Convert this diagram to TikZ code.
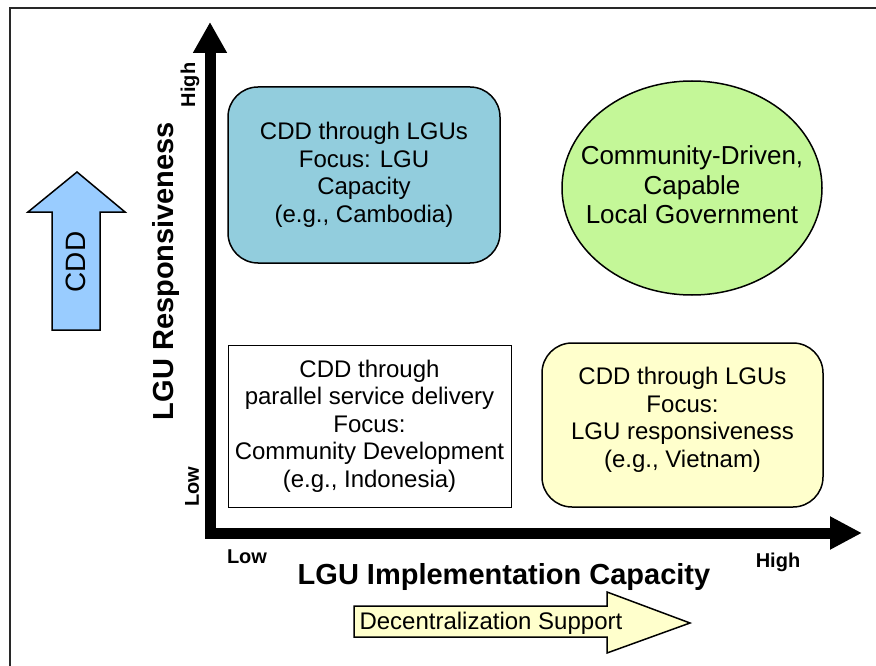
\documentclass[tikz,border=0pt]{standalone}
\usepackage{fontspec}
\setmainfont{Liberation Sans}
\usetikzlibrary{arrows.meta, positioning, shapes.geometric}
\definecolor{boxteal}{RGB}{146,205,221}
\definecolor{ovalgreen}{RGB}{196,247,152}
\definecolor{paleyellow}{RGB}{255,255,204}
\definecolor{arrowblue}{RGB}{153,204,255}
\definecolor{framegray}{RGB}{40,40,40}

\begin{document}
\begin{tikzpicture}[
        x=1pt, y=-1pt,
        quad/.style={draw=black, line width=1.5pt, align=center, inner sep=0pt, font=\fontsize{24}{27.5}\selectfont},
        axistitle/.style={font=\bfseries\fontsize{29}{32}\selectfont},
        tick/.style={font=\bfseries\fontsize{20}{22}\selectfont},
        blockarrow/.style={draw=black, line width=1.5pt, line join=miter},
        axis/.style={line width=11pt, line join=miter, {Triangle[length=31pt,width=32pt]}-{Triangle[length=32pt,width=31pt]}}
    ]
        \useasboundingbox (0,0) rectangle (876,666);
        \draw[framegray, line width=2pt] (10,666) -- (10,8) -- (876,8);

        % axes
        \coordinate (ytip) at (210,22);
        \coordinate (origin) at (210,533);
        \coordinate (xtip) at (862,533);
        \draw[axis] (ytip) |- (xtip);

        \node[axistitle] (xtitle) at (504,577) {LGU Implementation Capacity};
        \node[axistitle, rotate=90] (ytitle) at (166,271) {LGU Responsiveness};
        \node[tick] (xlow) at (247,557) {Low};
        \node[tick] (xhigh) at (778,562) {High};
        \node[tick, rotate=90] (ylow) at (192,487) {Low};
        \node[tick, rotate=90] (yhigh) at (190,85) {High};

        % quadrants
        \node[quad, rounded corners=30pt, fill=boxteal, minimum width=272pt, minimum height=176pt] (cambodia) at (364,175) {CDD through LGUs\\Focus: LGU\\Capacity\\(e.g., Cambodia)};
        \node[quad, ellipse, fill=ovalgreen, minimum width=260pt, minimum height=214pt] (capable) at (692,188) {};
        \node[align=center, font=\fontsize{26}{29.5}\selectfont] (capabletext) at ([yshift=3pt]capable.center) {Community-Driven,\\Capable\\Local Government};
        \node[quad, line width=1pt, fill=white, minimum width=283pt, minimum height=162pt] (indonesia) at (369.5,426) {CDD through\\parallel service delivery\\Focus:\\Community Development\\(e.g., Indonesia)};
        \node[quad, rounded corners=30pt, fill=paleyellow, minimum width=281pt, minimum height=164pt] (vietnam) at (682.5,425) {};
        \node[align=center, font=\fontsize{24}{27.5}\selectfont] (vietnamtext) at ([yshift=5pt]vietnam.center) {CDD through LGUs\\Focus:\\LGU responsiveness\\(e.g., Vietnam)};

        % side arrows
        \draw[blockarrow, fill=arrowblue] (52,330) -- (52,212) -- (28,212) -- (77,172) -- (125,212) -- (100,212) -- (100,330) -- cycle;
        \node[font=\fontsize{28}{30}\selectfont, rotate=90] (cdd) at (76,262) {CDD};

        \draw[blockarrow, fill=paleyellow] (354,606) -- (607,606) -- (607,592) -- (690,623) -- (607,653) -- (607,637) -- (354,637) -- cycle;
        \node[font=\fontsize{24}{27}\selectfont, anchor=west] (decentral) at (356,623) {Decentralization Support};
    \end{tikzpicture}
\end{document}
